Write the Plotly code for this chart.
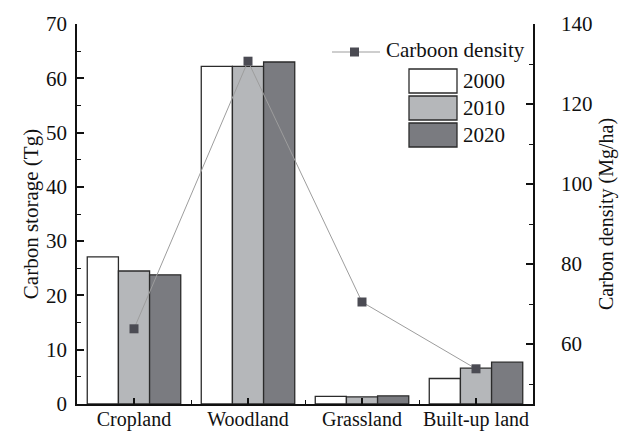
import plotly.graph_objects as go

# Land-use categories and carbon figures
categories = ["Cropland", "Woodland", "Grassland", "Built-up land"]
years = ["2000", "2010", "2020"]
storage_2000 = [27.1, 62.2, 1.4, 4.7]
storage_2010 = [24.5, 62.2, 1.3, 6.6]
storage_2020 = [23.8, 63.0, 1.5, 7.7]
carbon_density = [63.8, 130.7, 70.5, 53.8]

storage = [storage_2000, storage_2010, storage_2020]
bar_colors = ["#ffffff", "#b5b7ba", "#7a7b80"]
edge = "#2b2b2b"
font_family = "Liberation Serif"
fs = 21

W, H = 627, 432
L, R, T, B = 77, 94, 24, 28
pw, ph = W - L - R, H - T - B

xpos = list(range(len(categories)))

fig = go.Figure()
for yr, vals, col in zip(years, storage, bar_colors):
    fig.add_trace(go.Bar(
        x=xpos, y=vals, name=yr,
        marker=dict(color=col, line=dict(color=edge, width=1.3)),
        showlegend=False,
    ))

fig.add_trace(go.Scatter(
    x=xpos, y=carbon_density, yaxis="y2", name="Carboon density",
    mode="lines+markers",
    line=dict(color="#9d9d9d", width=1),
    marker=dict(symbol="square", size=9, color="#4b4b53"),
    showlegend=False,
))

def px_x(p):
    return (p - L) / pw

def px_y(p):
    return (H - B - p) / ph

shapes = []
annotations = []

# Legend: density line entry
shapes.append(dict(type="line", xref="paper", yref="paper",
                   x0=px_x(332), x1=px_x(380), y0=px_y(52), y1=px_y(52),
                   line=dict(color="#9d9d9d", width=1)))
shapes.append(dict(type="rect", xref="paper", yref="paper",
                   x0=px_x(350), x1=px_x(359), y0=px_y(47.5), y1=px_y(56.5),
                   fillcolor="#4b4b53", line=dict(width=0)))
annotations.append(dict(xref="paper", yref="paper", x=px_x(384), y=px_y(50),
                        text="Carboon density", showarrow=False,
                        xanchor="left", yanchor="middle",
                        font=dict(family=font_family, size=fs, color="#111")))

# Legend: year swatches
box_tops = [69, 96, 123]
for yr, col, top in zip(years, bar_colors, box_tops):
    shapes.append(dict(type="rect", xref="paper", yref="paper",
                       x0=px_x(409), x1=px_x(457), y0=px_y(top), y1=px_y(top + 24),
                       fillcolor=col, line=dict(color=edge, width=1.3)))
    annotations.append(dict(xref="paper", yref="paper", x=px_x(461), y=px_y(top + 12),
                            text=yr, showarrow=False, xanchor="left", yanchor="middle",
                            font=dict(family=font_family, size=fs, color="#111")))

fig.update_layout(
    width=W, height=H,
    margin=dict(l=L, r=R, t=T, b=B, pad=0),
    paper_bgcolor="white", plot_bgcolor="white",
    barmode="group", bargap=0.18, bargroupgap=0,
    font=dict(family=font_family, size=fs, color="#111"),
    showlegend=False,
    shapes=shapes, annotations=annotations,
    xaxis=dict(
        range=[-0.5, 3.5], tickmode="array", tickvals=xpos, ticktext=categories,
        showline=True, linecolor="#111", linewidth=1.5, showgrid=False, zeroline=False,
        ticks="inside", ticklen=6, tickwidth=1.5, tickcolor="#111",
        minor=dict(tickmode="array", tickvals=[0.5, 1.5, 2.5], ticks="inside",
                   ticklen=4, tickwidth=1.2, tickcolor="#111"),
        tickfont=dict(size=20), ticklabelstandoff=-4, automargin=False,
    ),
    yaxis=dict(
        range=[0, 70], dtick=10, showline=True, linecolor="#111", linewidth=1.5,
        showgrid=False, zeroline=False,
        ticks="inside", ticklen=7, tickwidth=1.5, tickcolor="#111",
        minor=dict(dtick=5, ticks="inside", ticklen=4, tickwidth=1.2, tickcolor="#111"),
        tickfont=dict(size=fs), ticklabelstandoff=4, automargin=False,
        title=dict(text="Carbon storage (Tg)", font=dict(size=fs), standoff=2),
    ),
    yaxis2=dict(
        range=[45, 140], tick0=0, dtick=20, overlaying="y", side="right",
        showline=True, linecolor="#111", linewidth=1.5, showgrid=False, zeroline=False,
        ticks="inside", ticklen=7, tickwidth=1.5, tickcolor="#111",
        minor=dict(dtick=10, ticks="inside", ticklen=4, tickwidth=1.2, tickcolor="#111"),
        tickfont=dict(size=fs), ticklabelstandoff=22, automargin=False,
        title=dict(text="Carbon density (Mg/ha)", font=dict(size=20), standoff=8),
    ),
)

fig.write_html("out.html")
